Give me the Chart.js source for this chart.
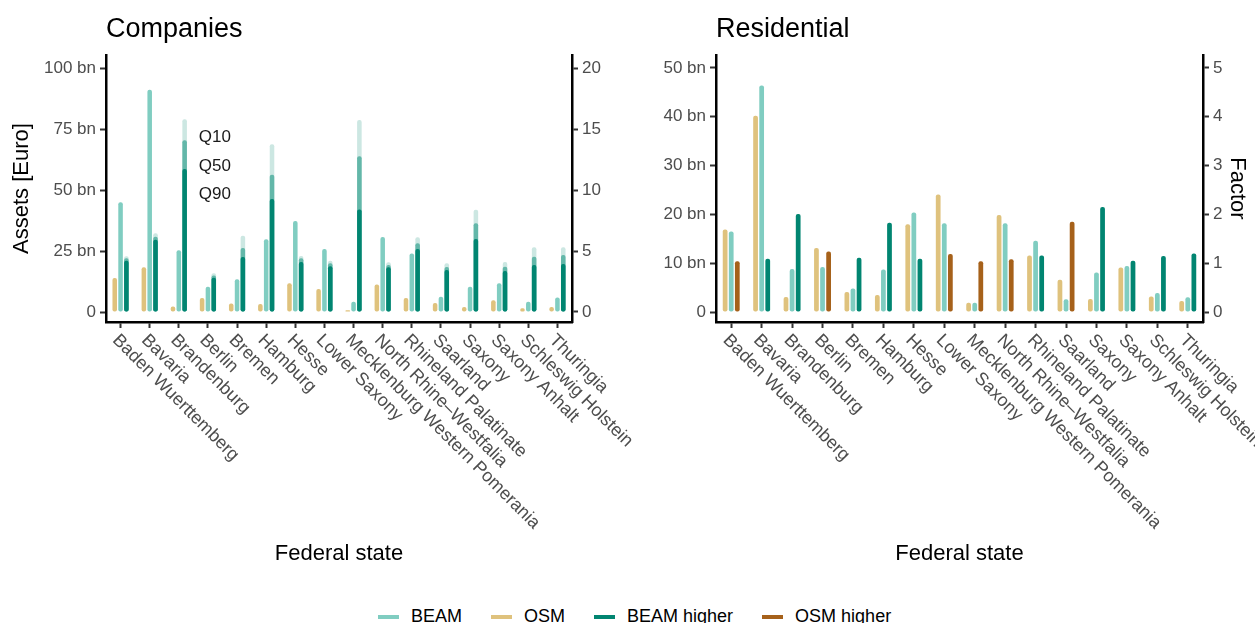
<!DOCTYPE html>
<html>
<head>
<meta charset="utf-8">
<script src="https://cdn.jsdelivr.net/npm/chart.js@4.4.1/dist/chart.umd.min.js"></script>
<style>
  body { margin: 0; background: #fff; width: 1255px; height: 623px; overflow: hidden; position: relative; font-family: "Liberation Sans", Arial, sans-serif; }
  canvas { position: absolute; top: 0; }
  #legend { position: absolute; left: 378px; top: 606px; display: flex; align-items: center; font-size: 18px; color: #000; }
  .item { display: flex; align-items: center; margin-right: 29px; }
  .swatch { width: 21px; height: 4px; margin-right: 12px; }
</style>
</head>
<body>
<canvas id="companies" width="680" height="580" style="left:0"></canvas>
<canvas id="residential" width="635" height="580" style="left:620px"></canvas>
<div id="legend">
  <div class="item"><span class="swatch" style="background:#80cdc1"></span>BEAM</div>
  <div class="item"><span class="swatch" style="background:#dfc27d"></span>OSM</div>
  <div class="item"><span class="swatch" style="background:#018571"></span>BEAM higher</div>
  <div class="item"><span class="swatch" style="background:#a6611a"></span>OSM higher</div>
</div>
<script>
// Federal states (same order in both panels)
const states = ['Baden Wuerttemberg', 'Bavaria', 'Brandenburg', 'Berlin', 'Bremen', 'Hamburg', 'Hesse',
  'Lower Saxony', 'Mecklenburg Western Pomerania', 'North Rhine\u2013Westfalia', 'Rhineland Palatinate',
  'Saarland', 'Saxony', 'Saxony Anhalt', 'Schleswig Holstein', 'Thuringia'];

// Companies: assets in bn Euro, factor with quantiles
const compOSM  = [13.9, 18.3, 2.3, 5.7, 3.5, 3.3, 11.8, 9.4, 0.7, 11.3, 5.7, 3.7, 2.0, 4.8, 1.5, 2.0];
const compBEAM = [45.0, 91.1, 25.3, 10.4, 13.4, 29.8, 37.3, 25.8, 4.2, 30.7, 24.0, 6.3, 10.4, 11.8, 4.2, 5.9];
const compQ90  = [4.2, 5.93, 11.72, 2.81, 4.5, 9.26, 4.1, 3.75, 8.4, 3.66, 5.16, 3.44, 5.98, 3.36, 3.85, 3.93];
const compQ50  = [4.4, 6.17, 14.07, 3.0, 5.25, 11.25, 4.4, 4.0, 12.76, 3.85, 5.63, 3.69, 7.27, 3.71, 4.53, 4.67];
const compQ10  = [4.56, 6.45, 15.79, 3.17, 6.25, 13.75, 4.6, 4.2, 15.74, 4.07, 6.12, 4.0, 8.39, 4.1, 5.3, 5.3];

// Residential: assets in bn Euro, factor (higher source)
const resOSM  = [16.9, 40.2, 3.07, 13.1, 4.1, 3.5, 18.0, 24.1, 1.9, 19.9, 11.6, 6.6, 2.66, 9.1, 3.2, 2.25];
const resBEAM = [16.5, 46.4, 8.8, 9.2, 4.8, 8.7, 20.4, 18.2, 1.9, 18.2, 14.6, 2.6, 8.1, 9.4, 3.9, 3.0];
const resBeamHigher = [null, 1.09, 2.01, null, 1.11, 1.83, 1.09, null, null, null, 1.16, null, 2.15, 1.05, 1.15, 1.2];
const resOsmHigher  = [1.04, null, null, 1.24, null, null, null, 1.19, 1.04, 1.08, null, 1.85, null, null, null, null];

// Tick values
const compTicks = [0, 25, 50, 75, 100];
const compFactorTicks = [0, 5, 10, 15, 20];
const resTicks = [0, 10, 20, 30, 40, 50];
const resFactorTicks = [0, 1, 2, 3, 4, 5];

// Quantile labels next to Brandenburg
const qLabels = ['Q10', 'Q50', 'Q90'];
const qLabelValues = [14.34, 11.97, 9.67];

const FONT = '"Liberation Sans", Arial, sans-serif';
Chart.defaults.font.family = FONT;
Chart.defaults.color = '#4d4d4d';

const C_BEAM = '#80cdc1', C_OSM = '#dfc27d', C_BEAM_HI = '#018571', C_OSM_HI = '#a6611a';

// rotated x labels starting at the tick (ggplot style)
const xLabelPlugin = {
  id: 'xLabels',
  afterDraw(chart) {
    const scale = chart.scales.x;
    const ctx = chart.ctx;
    ctx.save();
    ctx.font = '18px ' + FONT;
    ctx.fillStyle = '#4d4d4d';
    ctx.textAlign = 'left';
    ctx.textBaseline = 'top';
    chart.data.labels.forEach((label, i) => {
      ctx.save();
      ctx.translate(scale.getPixelForTick(i) + 1, scale.top + 9);
      ctx.rotate(Math.PI / 4);
      ctx.fillText(label, 0, 0);
      ctx.restore();
    });
    ctx.restore();
  }
};

const qLabelPlugin = {
  id: 'qLabels',
  afterDraw(chart) {
    if (chart.canvas.id !== 'companies') return;
    const ctx = chart.ctx;
    const x = chart.scales.x.getPixelForValue(2) + 20;
    ctx.save();
    ctx.font = '17px ' + FONT;
    ctx.fillStyle = '#1a1a1a';
    ctx.textAlign = 'left';
    ctx.textBaseline = 'middle';
    qLabels.forEach((t, i) => ctx.fillText(t, x, chart.scales.y1.getPixelForValue(qLabelValues[i])));
    ctx.restore();
  }
};

function bar(label, data, color, stack, axis) {
  return {
    label: label, data: data, backgroundColor: color, stack: stack, yAxisID: axis,
    borderRadius: 2, borderSkipped: false,
    categoryPercentage: 0.6, barPercentage: 0.78
  };
}

function gridOpts() {
  return { drawOnChartArea: false, drawTicks: true, tickLength: 6, tickWidth: 2, tickColor: '#333', offset: false };
}

function yAxis(min, max, ticks, position, width, fmt, title) {
  return {
    type: 'linear', position: position, min: min, max: max, stacked: false,
    border: { display: true, color: '#000', width: 2.5 },
    grid: gridOpts(),
    ticks: { font: { size: 17 }, color: '#4d4d4d', padding: 4, callback: fmt },
    title: title,
    afterBuildTicks: (scale) => { scale.ticks = ticks.map(v => ({ value: v })); },
    afterFit: (scale) => { scale.width = width; }
  };
}

function makeChart(id, titleText, datasets, scales) {
  return new Chart(document.getElementById(id), {
    type: 'bar',
    data: { labels: states, datasets: datasets },
    options: {
      responsive: false,
      animation: false,
      layout: { padding: 0 },
      plugins: {
        legend: { display: false },
        tooltip: { enabled: false },
        title: {
          display: true, text: titleText, align: 'start', fullSize: false,
          color: '#000', font: { size: 27, weight: 'normal' },
          padding: { top: 13.8, bottom: 8.8 }
        }
      },
      scales: scales
    },
    plugins: [xLabelPlugin, qLabelPlugin]
  });
}

function xAxis() {
  return {
    type: 'category', stacked: true,
    border: { display: true, color: '#000', width: 2.5 },
    grid: gridOpts(),
    ticks: { display: false },
    title: { display: true, text: 'Federal state', color: '#000', font: { size: 22 }, padding: { top: 0, bottom: 12.8 } },
    afterFit: (scale) => { scale.height = 258; }
  };
}

const bn = (v) => v === 0 ? '0' : v + ' bn';
const plain = (v) => String(v);

// Companies panel
makeChart('companies', 'Companies', [
  bar('OSM', compOSM, C_OSM, 'o', 'y'),
  bar('BEAM', compBEAM, C_BEAM, 'b', 'y'),
  bar('Q90', compQ90, C_BEAM_HI, 'f', 'y1'),
  bar('Q50', compQ50, '#63b7a9', 'f', 'y1'),
  bar('Q10', compQ10, '#cce7e2', 'f', 'y1')
], {
  x: xAxis(),
  y: yAxis(-4.098, 105.33, compTicks, 'left', 106, bn,
    { display: true, text: 'Assets [Euro]', color: '#000', font: { size: 22 }, padding: { top: 8.8, bottom: 0 } }),
  y1: yAxis(-0.8197, 21.066, compFactorTicks, 'right', 108, plain, { display: false })
});

// Residential panel
makeChart('residential', 'Residential', [
  bar('OSM', resOSM, C_OSM, 'o', 'y'),
  bar('BEAM', resBEAM, C_BEAM, 'b', 'y'),
  bar('BEAM higher', resBeamHigher, C_BEAM_HI, 'f', 'y1'),
  bar('OSM higher', resOsmHigher, C_OSM_HI, 'f', 'y1')
], {
  x: xAxis(),
  y: yAxis(-2.049, 52.66, resTicks, 'left', 96, bn, { display: false }),
  y1: yAxis(-0.2049, 5.266, resFactorTicks, 'right', 52, plain,
    { display: true, text: 'Factor', color: '#000', font: { size: 22 }, padding: { top: 4.8, bottom: 0 } })
});
</script>
</body>
</html>
